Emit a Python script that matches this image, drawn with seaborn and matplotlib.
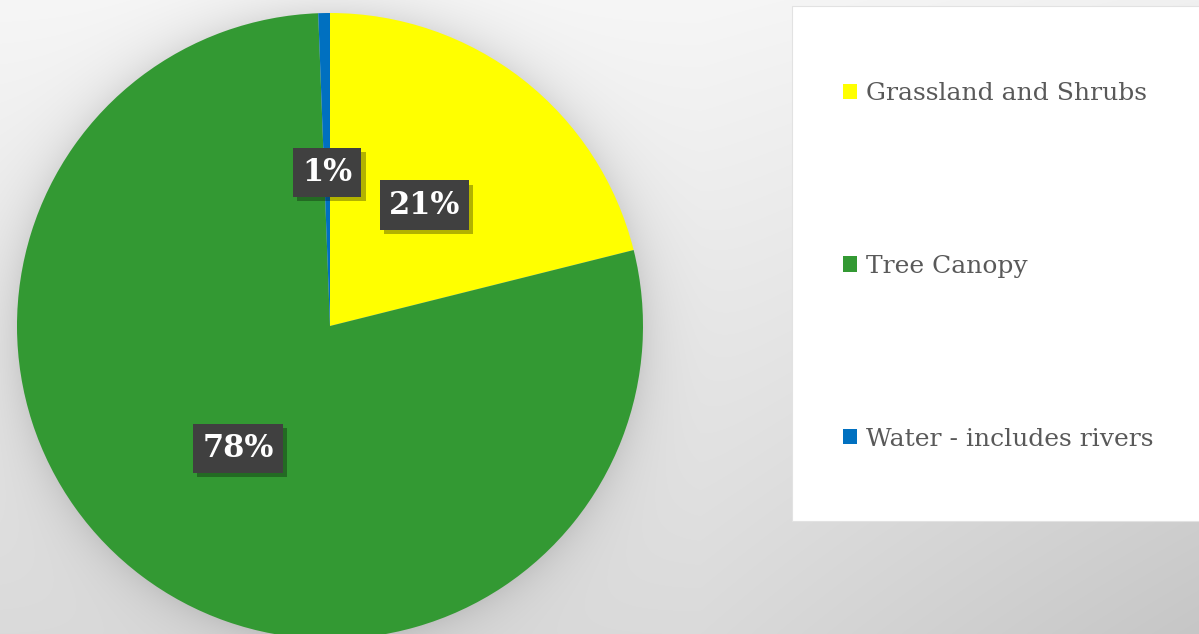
import numpy as np
import matplotlib
matplotlib.use("Agg")
import matplotlib.pyplot as plt
import matplotlib.patheffects as pe
from matplotlib.patches import Rectangle
import seaborn as sns

# data
categories = ["Grassland and Shrubs", "Tree Canopy", "Water - includes rivers"]
shares = [21.1, 78.3, 0.6]
colors = ["#FFFF00", "#339933", "#0070C0"]

sns.set_theme(style="white")
plt.rcParams['font.family'] = ['DejaVu Serif']

W, H = 1199, 634
fig = plt.figure(figsize=(W / 100, H / 100), dpi=100)

# background: soft gradient plus a blurred shadow around the pie
cx, cy, R = 330, 326, 313
yy, xx = np.mgrid[0:H, 0:W].astype(float)
bg = 246 - 28 * (yy / H) - 20 * np.clip((xx - 700) / 500, 0, 1) * (0.3 + 0.7 * yy / H)
d = np.sqrt((xx - cx) ** 2 + (yy - cy) ** 2)
halo = np.where(d > R, 24 * np.exp(-(d - R) / 22.0), 24)
bg = np.clip((bg - halo) / 255.0, 0, 1)
rgb = np.dstack([bg, bg, bg])
bax = fig.add_axes([0, 0, 1, 1])
bax.imshow(rgb, aspect="auto", extent=[0, W, H, 0], interpolation="nearest")
bax.set_xlim(0, W)
bax.set_ylim(H, 0)
bax.set_axis_off()

# legend panel
bax.add_patch(Rectangle((792, 6), W - 792 + 5, 515, facecolor="white",
                        edgecolor="#e2e2e2", lw=0.8, zorder=2))

# pie axes
ax = fig.add_axes([(cx - R) / W, (H - cy - R) / H, 2 * R / W, 2 * R / H])
wedges, texts, autotexts = ax.pie(
    shares, colors=colors, startangle=90, counterclock=False,
    autopct=lambda p: f"{p:.0f}%", pctdistance=0.49, radius=1,
    wedgeprops=dict(linewidth=0),
    textprops=dict(color="white", fontsize=22, fontweight="bold"))
ax.set_xlim(-1, 1)
ax.set_ylim(-1, 1)
ax.set_aspect("auto")
ax.set_axis_off()

for t in autotexts:
    t.set_bbox(dict(boxstyle="square,pad=0.3", facecolor="#404040", edgecolor="none"))
    t.get_bbox_patch().set_path_effects([
        pe.withSimplePatchShadow(offset=(3, -3), shadow_rgbFace="black", alpha=0.3),
        pe.Normal()])

leg = fig.legend(wedges, categories, loc="upper left",
                 bbox_to_anchor=(820 / W, 1 - 60 / H), frameon=False,
                 fontsize=18, labelcolor="#595959", handlelength=0.58,
                 handleheight=0.58, handletextpad=0.38, labelspacing=5.98)

fig.savefig("out.png", dpi=100)
